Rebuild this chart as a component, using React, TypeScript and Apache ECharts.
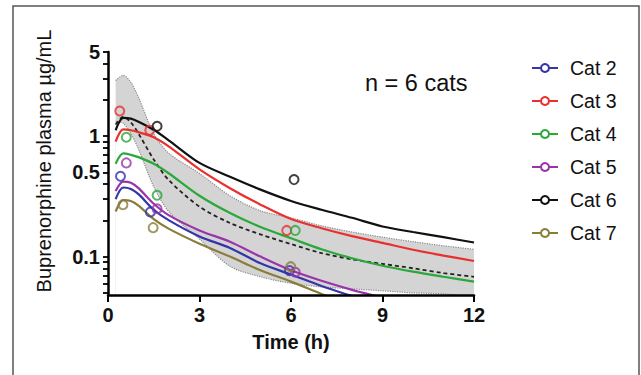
import React, { useEffect, useRef } from "react";
import * as echarts from "echarts";

// Model time grid (h)
const times = [0.25, 0.5, 0.75, 1, 1.5, 2, 3, 4, 5, 6, 7, 8, 9, 10, 11, 12];

// Fitted curves per cat (µg/mL)
const cat2Fit = [0.3, 0.375, 0.365, 0.33, 0.245, 0.2, 0.147, 0.118, 0.088, 0.071, 0.057, 0.047, 0.039, 0.033, 0.028, 0.024];
const cat3Fit = [0.9, 1.14, 1.12, 1.08, 0.98, 0.82, 0.53, 0.37, 0.27, 0.205, 0.172, 0.148, 0.13, 0.114, 0.102, 0.092];
const cat4Fit = [0.59, 0.72, 0.7, 0.67, 0.59, 0.49, 0.32, 0.23, 0.176, 0.142, 0.115, 0.097, 0.084, 0.075, 0.068, 0.062];
const cat5Fit = [0.35, 0.42, 0.41, 0.37, 0.275, 0.22, 0.165, 0.133, 0.1, 0.077, 0.063, 0.053, 0.0455, 0.039, 0.034, 0.03];
const cat6Fit = [1.12, 1.42, 1.4, 1.32, 1.13, 0.92, 0.6, 0.46, 0.36, 0.29, 0.245, 0.21, 0.178, 0.16, 0.145, 0.131];
const cat7Fit = [0.237, 0.295, 0.29, 0.265, 0.205, 0.17, 0.128, 0.1, 0.077, 0.062, 0.049, 0.039, 0.032, 0.027, 0.023, 0.02];

// Population mean and band
const meanFit = [1.25, 1.45, 1.3, 1.05, 0.64, 0.43, 0.26, 0.19, 0.153, 0.127, 0.107, 0.095, 0.087, 0.08, 0.073, 0.068];
const bandUpper = [2.9, 3.2, 2.8, 2.1, 1.05, 0.72, 0.49, 0.32, 0.24, 0.21, 0.18, 0.16, 0.145, 0.133, 0.123, 0.115];
const bandLower = [1.33, 1.28, 1.05, 0.78, 0.38, 0.235, 0.14, 0.083, 0.068, 0.06, 0.056, 0.054, 0.052, 0.05, 0.049, 0.046];

// Observed concentrations [time, value]
const cat2Obs = [[0.41, 0.464], [1.39, 0.235], [5.95, 0.0765]];
const cat3Obs = [[0.385, 1.62], [1.37, 1.12], [5.86, 0.165]];
const cat4Obs = [[0.6, 0.98], [1.61, 0.323], [6.14, 0.165]];
const cat5Obs = [[0.6, 0.6], [1.61, 0.25], [6.14, 0.0742]];
const cat6Obs = [[1.61, 1.21], [6.1, 0.436]];
const cat7Obs = [[0.49, 0.27], [1.48, 0.174], [5.99, 0.0825]];

const catNames = ["Cat 2", "Cat 3", "Cat 4", "Cat 5", "Cat 6", "Cat 7"];
const catColors = ["#3535a8", "#e8312f", "#2aa83a", "#9b34ab", "#111111", "#8a7d3c"];
const catFits = [cat2Fit, cat3Fit, cat4Fit, cat5Fit, cat6Fit, cat7Fit];
const catObs = [cat2Obs, cat3Obs, cat4Obs, cat5Obs, cat6Obs, cat7Obs];

const xTicks = [0, 3, 6, 9, 12];
const yLabelValues = [0.1, 0.5, 1, 5];
const yTickValues = [0.05, 0.06, 0.07, 0.08, 0.09, 0.1, 0.2, 0.3, 0.4, 0.5, 0.6, 0.7, 0.8, 0.9, 1, 2, 3, 4, 5];

const FONT = "'Liberation Sans', Arial, sans-serif";
const SMOOTH = 0.3;

export default function App() {
  const ref = useRef<HTMLDivElement>(null);

  useEffect(() => {
    if (!ref.current) return;
    const chart = echarts.init(ref.current, undefined, { renderer: "svg" });

    const pair = (arr: number[]) => times.map((t, i) => [t, arr[i]]);
    const isLabelled = (v: number) => yLabelValues.some((l) => Math.abs(l - v) < 1e-6 * Math.max(1, l));

    const series: any[] = [
      {
        name: "bandUpper",
        type: "line",
        data: pair(bandUpper),
        symbol: "none",
        smooth: SMOOTH,
        lineStyle: { color: "#8a8a8a", width: 1.2, type: "dotted" },
        areaStyle: { color: "#d4d4d4", opacity: 1, origin: "start" },
        z: 1,
        silent: true,
      },
      {
        name: "bandLower",
        type: "line",
        data: pair(bandLower),
        symbol: "none",
        smooth: SMOOTH,
        lineStyle: { color: "#8a8a8a", width: 1.2, type: "dotted" },
        areaStyle: { color: "#ffffff", opacity: 1, origin: "start" },
        z: 1.5,
        silent: true,
      },
      {
        name: "mean",
        type: "line",
        data: pair(meanFit),
        symbol: "none",
        smooth: SMOOTH,
        lineStyle: { color: "#222", width: 1.8, type: [4, 3] },
        z: 2,
      },
    ];

    catNames.forEach((name, i) => {
      series.push({
        name,
        type: "line",
        data: pair(catFits[i]),
        symbol: "emptyCircle",
        symbolSize: 8,
        showSymbol: false,
        smooth: SMOOTH,
        lineStyle: { color: catColors[i], width: 2.2 },
        itemStyle: { color: catColors[i] },
        z: 3,
      });
    });
    catNames.forEach((name, i) => {
      series.push({
        name: name + " obs",
        type: "scatter",
        data: catObs[i],
        symbol: "circle",
        symbolSize: 9,
        itemStyle: { color: "rgba(255,255,255,0)", borderColor: catColors[i], borderWidth: 2 },
        z: 4,
      });
    });

    chart.setOption({
      animation: false,
      backgroundColor: "#ffffff",
      grid: { left: 108, right: 167, top: 52, bottom: 80, containLabel: false },
      title: {
        text: "n = 6 cats",
        left: 365,
        top: 71,
        padding: 0,
        textStyle: { fontFamily: FONT, fontSize: 23.5, fontWeight: "normal", color: "#111" },
      },
      legend: {
        orient: "vertical",
        left: 531,
        top: 58,
        padding: 0,
        itemWidth: 26,
        itemHeight: 10,
        itemGap: 13,
        data: catNames,
        selectedMode: false,
        textStyle: { fontFamily: FONT, fontSize: 19.5, color: "#111", padding: [0, 0, 0, 7], lineHeight: 20 },
      },
      xAxis: {
        type: "value",
        min: 0,
        max: 12,
        interval: 3,
        z: 10,
        axisLine: { show: true, onZero: false, lineStyle: { color: "#000", width: 2.5 } },
        axisTick: { show: true, length: 7, customValues: xTicks, lineStyle: { color: "#000", width: 2 } },
        axisLabel: {
          margin: 10,
          customValues: xTicks,
          fontFamily: FONT,
          fontSize: 20,
          fontWeight: "bold",
          color: "#111",
        },
        splitLine: { show: false },
        name: "Time (h)",
        nameLocation: "middle",
        nameGap: 37,
        nameTextStyle: { fontFamily: FONT, fontSize: 20, fontWeight: "bold", color: "#111" },
      },
      yAxis: {
        type: "log",
        logBase: 10,
        min: 0.048,
        max: 5,
        z: 10,
        splitLine: { show: false },
        minorTick: { show: false },
        axisLine: { show: true, onZero: false, lineStyle: { color: "#000", width: 2.5 } },
        axisTick: { show: true, length: 5, customValues: yTickValues, lineStyle: { color: "#000", width: 1.8 } },
        axisLabel: {
          customValues: yTickValues,
          formatter: (v: number) => (isLabelled(v) ? String(Math.round(v * 1000) / 1000) : ""),
          margin: 8,
          hideOverlap: false,
          fontFamily: FONT,
          fontSize: 20,
          fontWeight: "bold",
          color: "#111",
        },
      },
      graphic: [
        {
          type: "rect",
          silent: true,
          shape: { x: 13, y: 6, width: 626, height: 420 },
          style: { fill: "none", stroke: "#555", lineWidth: 1.5 },
        },
        {
          type: "text",
          silent: true,
          x: 44,
          y: 161,
          rotation: Math.PI / 2,
          style: {
            text: "Buprenorphine plasma µg/mL",
            fontFamily: FONT,
            fontSize: 20,
            fill: "#111",
            align: "center",
            verticalAlign: "middle",
          },
        },
      ],
      series,
    });

    return () => chart.dispose();
  }, []);

  return (
    <div
      ref={ref}
      style={{ position: "fixed", left: 0, top: 0, width: 641, height: 375, background: "#fff" }}
    />
  );
}
